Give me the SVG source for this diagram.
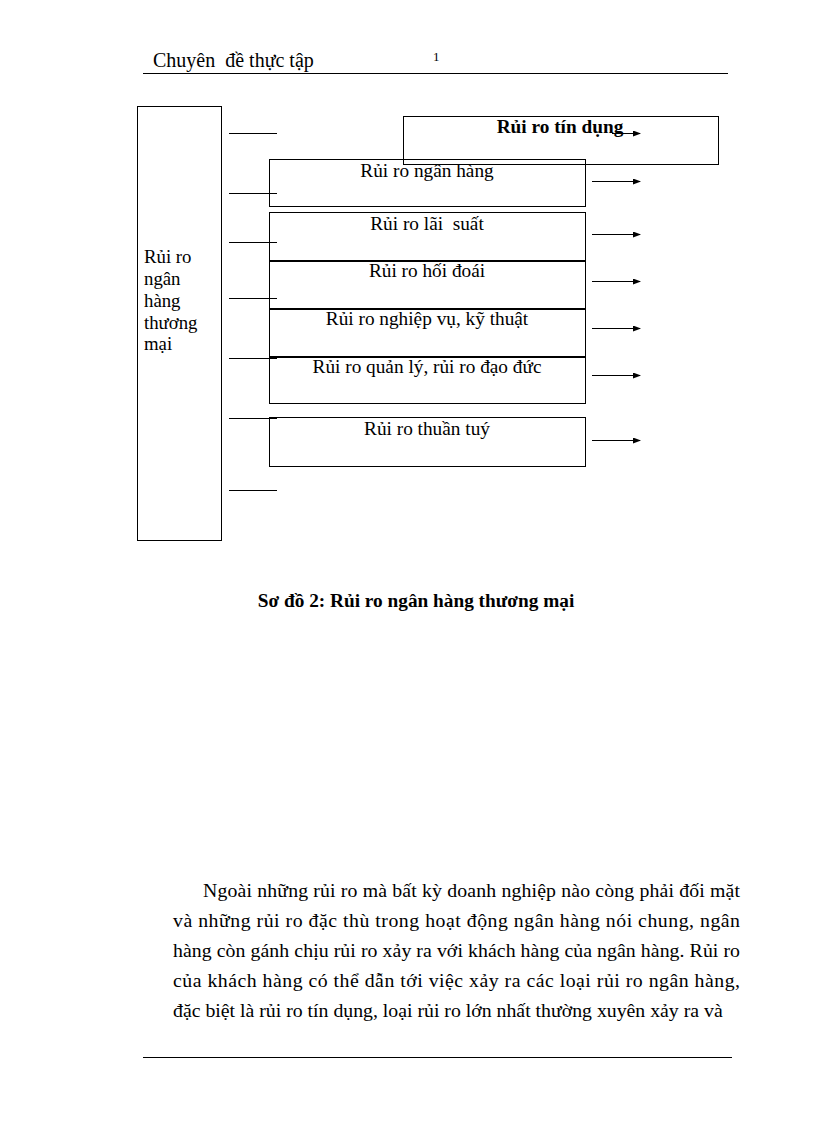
<svg xmlns="http://www.w3.org/2000/svg" width="816" height="1123" viewBox="0 0 816 1123">
<defs>
<style>
.t{font-family:"Liberation Serif","Times New Roman",serif;fill:#000}
.box{fill:none;stroke:#000;stroke-width:1}
.ln{stroke:#000;stroke-width:1;fill:none}
.arr{stroke:#000;stroke-width:1;fill:none;marker-end:url(#ah)}
.bt{font-size:19.3px;text-anchor:middle}
</style>
<marker id="ah" markerWidth="8" markerHeight="6" refX="7" refY="3" orient="auto" markerUnits="userSpaceOnUse">
<path d="M0,0 L8,3 L0,6 Z" fill="#000"/>
</marker>
</defs>
<rect x="0" y="0" width="816" height="1123" fill="#fff"/>
<g id="header">
<text class="t" x="153" y="67" font-size="20" xml:space="preserve" style="white-space:pre">Chuyên  đề thực tập</text>
<text class="t" x="433" y="61" font-size="13">1</text>
<line class="ln" x1="143" y1="73.5" x2="728" y2="73.5"/>
</g>
<g id="root">
<rect class="box" x="137.5" y="106.5" width="84" height="434"/>
<text class="t" font-size="18.8"><tspan x="144" y="263">Rủi ro</tspan><tspan x="144" y="285">ngân</tspan><tspan x="144" y="307">hàng</tspan><tspan x="144" y="329">thương</tspan><tspan x="144" y="350">mại</tspan></text>
</g>
<g id="credit">
<rect class="box" x="403.5" y="116.5" width="315" height="48"/>
<text class="t bt" x="560" y="133" font-weight="bold">Rủi ro tín dụng</text>
</g>
<g id="bank">
<rect class="box" x="269.5" y="159.5" width="316" height="47"/>
<text class="t bt" x="427" y="177">Rủi ro ngân hàng</text>
</g>
<g id="interest">
<rect class="box" x="269.5" y="212.5" width="316" height="48"/>
<text class="t bt" x="427" y="230" xml:space="preserve" style="white-space:pre">Rủi ro lãi  suất</text>
</g>
<g id="fx">
<rect class="box" x="269.5" y="261.5" width="316" height="47"/>
<text class="t bt" x="427" y="277">Rủi ro hối đoái</text>
</g>
<g id="operation">
<rect class="box" x="269.5" y="309.5" width="316" height="47"/>
<text class="t bt" x="427" y="325">Rủi ro nghiệp vụ, kỹ thuật</text>
</g>
<g id="management">
<rect class="box" x="269.5" y="357.5" width="316" height="46"/>
<text class="t bt" x="427" y="373">Rủi ro quản lý, rủi ro đạo đức</text>
</g>
<g id="pure">
<rect class="box" x="269.5" y="417.5" width="316" height="49"/>
<text class="t bt" x="427" y="435">Rủi ro thuần tuý</text>
</g>
<g id="connectors">
<line class="ln" x1="229" y1="133.5" x2="277" y2="133.5"/>
<line class="ln" x1="229" y1="193.5" x2="277" y2="193.5"/>
<line class="ln" x1="229" y1="242.5" x2="277" y2="242.5"/>
<line class="ln" x1="229" y1="298.5" x2="277" y2="298.5"/>
<line class="ln" x1="229" y1="358.5" x2="277" y2="358.5"/>
<line class="ln" x1="229" y1="418.5" x2="277" y2="418.5"/>
<line class="ln" x1="229" y1="490.5" x2="277" y2="490.5"/>
<line class="arr" x1="612" y1="133.5" x2="640" y2="133.5"/>
<line class="arr" x1="592" y1="181.5" x2="640" y2="181.5"/>
<line class="arr" x1="592" y1="234.5" x2="640" y2="234.5"/>
<line class="arr" x1="592" y1="281.5" x2="640" y2="281.5"/>
<line class="arr" x1="592" y1="328.5" x2="640" y2="328.5"/>
<line class="arr" x1="592" y1="375.5" x2="640" y2="375.5"/>
<line class="arr" x1="592" y1="440.5" x2="640" y2="440.5"/>
</g>
<g id="caption">
<text class="t" x="416" y="607" font-size="19.3" font-weight="bold" text-anchor="middle">Sơ đồ 2: Rủi ro ngân hàng thương mại</text>
</g>
<g id="paragraph">
<text class="t" x="203" y="897" font-size="19.8" textLength="537" lengthAdjust="spacing">Ngoài những rủi ro mà bất kỳ doanh nghiệp nào còng phải đối mặt</text>
<text class="t" x="173" y="927" font-size="19.8" textLength="567" lengthAdjust="spacing">và những rủi ro đặc thù trong hoạt động ngân hàng nói chung, ngân</text>
<text class="t" x="173" y="957" font-size="19.8" textLength="567" lengthAdjust="spacing">hàng còn gánh chịu rủi ro xảy ra với khách hàng của ngân hàng. Rủi ro</text>
<text class="t" x="173" y="987" font-size="19.8" textLength="567" lengthAdjust="spacing">của khách hàng có thể dẫn tới việc xảy ra các loại rủi ro ngân hàng,</text>
<text class="t" x="173" y="1017" font-size="19.8">đặc biệt là rủi ro tín dụng, loại rủi ro lớn nhất thường xuyên xảy ra và</text>
</g>
<g id="footer">
<line class="ln" x1="143" y1="1057.5" x2="732" y2="1057.5"/>
</g>
</svg>
